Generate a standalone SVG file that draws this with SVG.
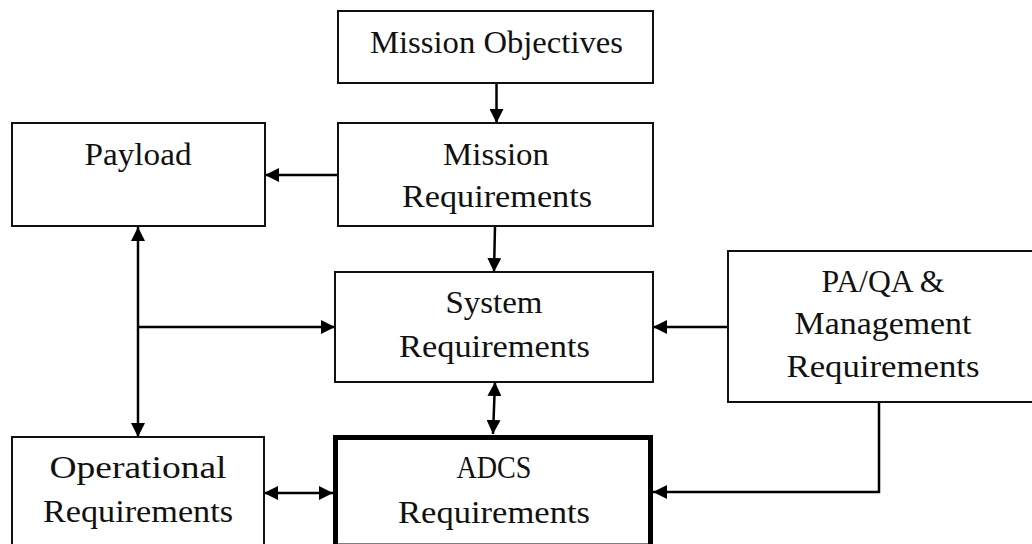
<svg xmlns="http://www.w3.org/2000/svg" width="1032" height="544" viewBox="0 0 1032 544">
  <style>
    .box { fill: #ffffff; stroke: #111111; stroke-width: 2; }
    .box-main { fill: #ffffff; stroke: #000000; stroke-width: 5; }
    .label { font-family: "Liberation Serif", "Times New Roman", serif; font-size: 31px; fill: #111111; text-anchor: middle; }
    .edge { fill: none; stroke: #000000; stroke-width: 2.5; }
  </style>
  <defs>
    <marker id="arrow" viewBox="0 0 14 14" refX="14" refY="7" markerWidth="14" markerHeight="14" markerUnits="userSpaceOnUse" orient="auto-start-reverse">
      <path d="M0,0 L14,7 L0,14 Z" fill="#000000"/>
    </marker>
  </defs>

  <rect width="1032" height="544" fill="#ffffff"/>

  <!-- connectors -->
  <g id="connectors">
    <line class="edge" x1="496.5" y1="83" x2="496.5" y2="123" marker-end="url(#arrow)"/>
    <line class="edge" x1="338" y1="175" x2="265" y2="175" marker-end="url(#arrow)"/>
    <line class="edge" x1="495" y1="226" x2="494" y2="272" marker-end="url(#arrow)"/>
    <line class="edge" x1="138" y1="227" x2="138" y2="437" marker-start="url(#arrow)" marker-end="url(#arrow)"/>
    <line class="edge" x1="138" y1="327" x2="335" y2="327" marker-end="url(#arrow)"/>
    <line class="edge" x1="728" y1="327" x2="653" y2="327" marker-end="url(#arrow)"/>
    <line class="edge" x1="495" y1="382" x2="493" y2="434" marker-start="url(#arrow)" marker-end="url(#arrow)"/>
    <line class="edge" x1="264" y1="493" x2="333" y2="493" marker-start="url(#arrow)" marker-end="url(#arrow)"/>
    <polyline class="edge" points="879,402 879,492 653,492" marker-end="url(#arrow)"/>
  </g>

  <g id="mission-objectives">
    <rect class="box" x="338" y="11" width="315" height="72"/>
    <text class="label" x="496.5" y="53" textLength="253" lengthAdjust="spacingAndGlyphs">Mission Objectives</text>
  </g>

  <g id="payload">
    <rect class="box" x="12" y="123" width="253" height="103"/>
    <text class="label" x="138" y="165" textLength="107" lengthAdjust="spacingAndGlyphs">Payload</text>
  </g>

  <g id="mission-requirements">
    <rect class="box" x="338" y="123" width="315" height="103"/>
    <text class="label" x="496" y="165" textLength="106" lengthAdjust="spacingAndGlyphs">Mission</text>
    <text class="label" x="497" y="207" textLength="190" lengthAdjust="spacingAndGlyphs">Requirements</text>
  </g>

  <g id="system-requirements">
    <rect class="box" x="335" y="272" width="318" height="110"/>
    <text class="label" x="494" y="313" textLength="97" lengthAdjust="spacingAndGlyphs">System</text>
    <text class="label" x="494.5" y="357" textLength="191" lengthAdjust="spacingAndGlyphs">Requirements</text>
  </g>

  <g id="pa-qa-management">
    <rect class="box" x="728" y="251" width="310" height="151"/>
    <text class="label" x="883" y="292" textLength="123" lengthAdjust="spacingAndGlyphs">PA/QA &amp;</text>
    <text class="label" x="883" y="334" textLength="177" lengthAdjust="spacingAndGlyphs">Management</text>
    <text class="label" x="883" y="377" textLength="193" lengthAdjust="spacingAndGlyphs">Requirements</text>
  </g>

  <g id="operational-requirements">
    <rect class="box" x="12" y="437" width="252" height="120"/>
    <text class="label" x="138" y="478" textLength="177" lengthAdjust="spacingAndGlyphs">Operational</text>
    <text class="label" x="138" y="522" textLength="190" lengthAdjust="spacingAndGlyphs">Requirements</text>
  </g>

  <g id="adcs-requirements">
    <rect class="box-main" x="335.5" y="437.5" width="315" height="108.5"/>
    <text class="label" x="494" y="478" textLength="75" lengthAdjust="spacingAndGlyphs">ADCS</text>
    <text class="label" x="494" y="523" textLength="192" lengthAdjust="spacingAndGlyphs">Requirements</text>
  </g>
</svg>
